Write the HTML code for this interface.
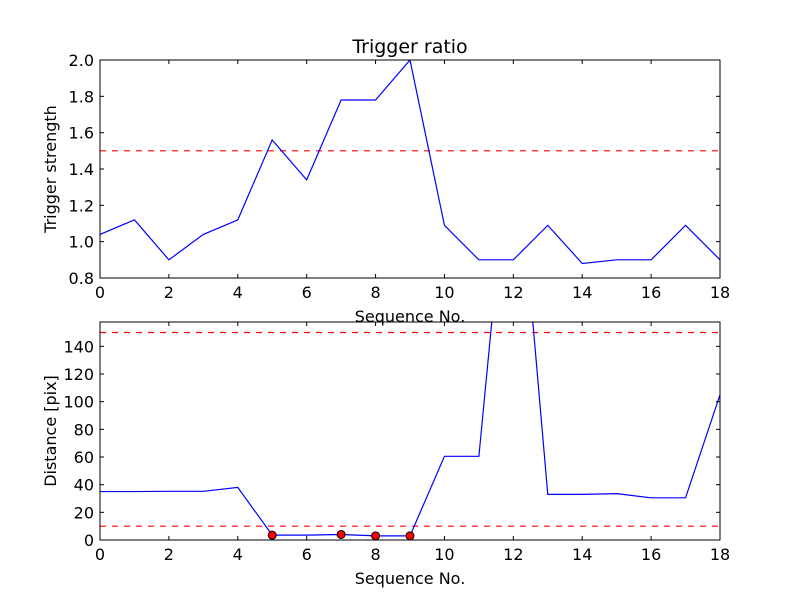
<!DOCTYPE html>
<html><head><meta charset="utf-8"><style>
body{margin:0;background:#fff}
svg{font-family:"DejaVu Sans","Liberation Sans",sans-serif}
</style></head><body>
<svg id="c" width="800" height="600" xmlns="http://www.w3.org/2000/svg"></svg>
<script>
const seq=[0,1,2,3,4,5,6,7,8,9,10,11,12,13,14,15,16,17,18];
const strength=[1.04,1.12,0.90,1.04,1.12,1.56,1.34,1.78,1.78,2.0,1.09,0.90,0.90,1.09,0.88,0.90,0.90,1.09,0.90];
const distance=[35,35,35.2,35.2,38,3.5,3.5,4,3,3,60.5,60.5,320,33,33,33.5,30.5,30.5,105];
const markX=[5,7,8,9];
const markY=[3.5,4,3,3];
const xTicks=[0,2,4,6,8,10,12,14,16,18];
const topTicks=[0.8,1.0,1.2,1.4,1.6,1.8,2.0];
const botTicks=[0,20,40,60,80,100,120,140];
const topThresh=[1.5];
const botThresh=[10,150];
const NS="http://www.w3.org/2000/svg";
const svg=document.getElementById('c');
function mk(t,a,p){const e=document.createElementNS(NS,t);for(const k in a)e.setAttribute(k,a[k]);(p||svg).appendChild(e);return e;}
const L=100,R=720;
const sx=v=>L+(v-0)/(18-0)*(R-L);
function panel(name,top,bot,ymin,ymax,ticks,fmt,ys,thr,ylabel,title){
  const g=mk('g',{});
  
  
  const sy=v=>bot-(v-ymin)/(ymax-ymin)*(bot-top);
  const cid=name+'-clip';
  const cp=mk('clipPath',{id:cid},g);mk('rect',{x:L,y:top,width:R-L,height:bot-top},cp);
  thr.forEach(t=>{const l=mk('line',{x1:L,x2:R,y1:sy(t),y2:sy(t),stroke:'#f00','stroke-dasharray':'6,6','stroke-width':1.2,'clip-path':`url(#${cid})`},g);
    });
  const pts=seq.map((x,i)=>sx(x)+','+sy(ys[i])).join(' ');
  const pl=mk('polyline',{points:pts,fill:'none',stroke:'#00f','stroke-width':1.2,'clip-path':`url(#${cid})`},g);
  
  const ax=mk('rect',{x:L,y:top,width:R-L,height:bot-top,fill:'none',stroke:'#000','stroke-width':1},g);
  
  xTicks.forEach(t=>{const x=sx(t);mk('line',{x1:x,x2:x,y1:bot,y2:bot-4,stroke:'#000'},g);mk('line',{x1:x,x2:x,y1:top,y2:top+4,stroke:'#000'},g);
    const tx=mk('text',{x:x,y:bot+20,'text-anchor':'middle','font-size':16},g);tx.textContent=t;
    });
  ticks.forEach(t=>{const y=sy(t);mk('line',{x1:L,x2:L+4,y1:y,y2:y,stroke:'#000'},g);mk('line',{x1:R,x2:R-4,y1:y,y2:y,stroke:'#000'},g);
    const tx=mk('text',{x:L-6,y:y+6,'text-anchor':'end','font-size':16},g);tx.textContent=fmt(t);
    });
  const xl=mk('text',{x:(L+R)/2,y:bot+44,'text-anchor':'middle','font-size':16},g);xl.textContent='Sequence No.';
  
  const yl=mk('text',{x:0,y:0,'text-anchor':'middle','font-size':16,transform:`translate(56,${(top+bot)/2}) rotate(-90)`},g);yl.textContent=ylabel;
  
  if(title){const tt=mk('text',{x:(L+R)/2,y:top-7,'text-anchor':'middle','font-size':19},g);tt.textContent=title;
    }
  return sy;
}
panel('top-panel',60,278,0.8,2.0,topTicks,v=>v.toFixed(1),strength,topThresh,'Trigger strength','Trigger ratio');
const sy2=panel('bottom-panel',322,540,0,157.6,botTicks,v=>String(v),distance,botThresh,'Distance [pix]',null);
markX.forEach((x,i)=>{const c=mk('circle',{cx:sx(x),cy:sy2(markY[i]),r:4,fill:'#f00',stroke:'#000','stroke-width':1});
  });
</script>
</body></html>
